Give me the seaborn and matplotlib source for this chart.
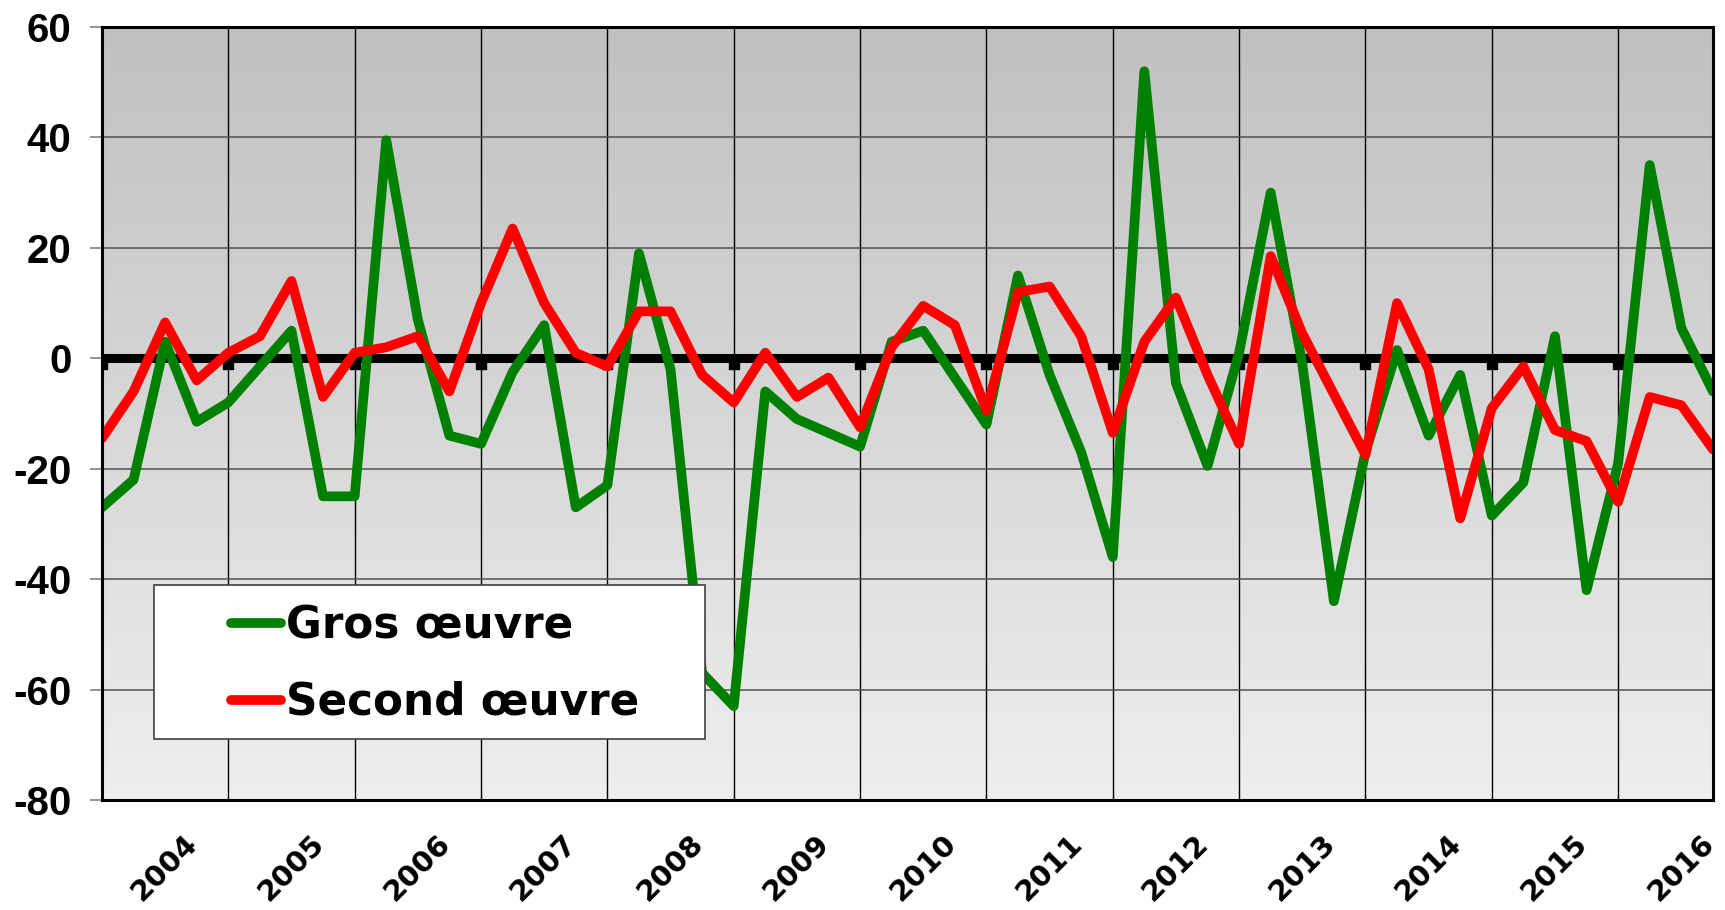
import numpy as np
import pandas as pd
import matplotlib
matplotlib.use('Agg')
import matplotlib.pyplot as plt
import seaborn as sns
from matplotlib.colors import LinearSegmentedColormap
from matplotlib.lines import Line2D
from matplotlib.patches import Rectangle

# Données trimestrielles (solde d'opinion)
years = [str(y) for y in range(2004, 2017)]
gros = [-27, -22, 3, -11.5, -8, -1.5, 5, -25, -25, 39.5, 7, -14, -15.5,
        -2.5, 6, -27, -23, 19, -2, -57, -63, -6, -11, -13.5, -16, 3,
        5, -3.5, -12, 15, -3, -17, -36, 52, -4.5, -19.5, 1, 30, -1,
        -44, -17, 1.5, -14, -3, -28.5, -22.5, 4, -42, -19, 35, 5.5, -6]
second = [-14.5, -6, 6.5, -4, 1, 4, 14, -7, 1, 2, 4, -6, 10,
          23.5, 10, 1, -1.5, 8.5, 8.5, -3, -8, 1, -7, -3.5, -12.5, 2,
          9.5, 6, -9.5, 12, 13, 4, -13.5, 3, 11, -3, -15.5, 18.5, 4.5,
          -6.5, -17.5, 10, -2, -29, -9, -1.5, -13, -15, -26, -7, -8.5, -16.5]
y_ticks = [-80, -60, -40, -20, 0, 20, 40, 60]
labels = ['Gros œuvre', 'Second œuvre']
colors = {'Gros œuvre': '#008000', 'Second œuvre': '#ff0000'}

t = np.arange(len(gros))
df = pd.DataFrame({'t': t, 'Gros œuvre': gros, 'Second œuvre': second})
df = df.melt('t', var_name='serie', value_name='val')

sns.set_theme(style='white')
plt.rcParams['font.family'] = ['DejaVu Sans']
plt.rcParams['text.color'] = 'black'
plt.rcParams['xtick.color'] = 'black'
plt.rcParams['ytick.color'] = 'black'

fig = plt.figure(figsize=(17.25, 9.1), dpi=100)
ax = fig.add_axes([0.0591, 0.1209, 0.9339, 0.8494])

# fond dégradé gris
cmap = LinearSegmentedColormap.from_list('fond', ['#eeeeee', '#c0c0c0'])
grad = np.linspace(0, 1, 256).reshape(-1, 1)
ax.imshow(grad, extent=[0, len(gros) - 1, -80, 60], aspect='auto',
          cmap=cmap, origin='lower', zorder=-1)

ax.axhline(0, color='black', lw=6.5, zorder=3)
grid_x = list(range(0, len(gros), 4))
ax.plot(grid_x, [0] * len(grid_x), ls='none',
        marker=[(-1, 0), (1, 0), (1, -2.2), (-1, -2.2), (-1, 0)],
        ms=16, color='black', zorder=3)

sns.lineplot(data=df, x='t', y='val', hue='serie', palette=colors,
             lw=7, ax=ax, legend=False, sort=False, zorder=4,
             solid_capstyle='round', solid_joinstyle='round')

ax.set_xlim(0, len(gros) - 1)
ax.set_ylim(-80, 60)
ax.set_xlabel('')
ax.set_ylabel('')

ax.set_xticks([4 * i + 2 for i in range(len(years))])
ax.set_xticklabels(years, rotation=45, fontsize=21, fontweight='bold')
ax.set_xticks(grid_x, minor=True)
ax.tick_params(axis='x', which='both', length=0, pad=21, labelcolor='black')

ax.set_yticks(y_ticks)
ax.set_yticklabels([str(v) for v in y_ticks], fontsize=29,
                   fontweight='bold', family='Liberation Sans')
ax.tick_params(axis='y', length=9, width=1.2, color='#808080', pad=13,
               left=True, labelcolor='black')

ax.set_axisbelow(True)
ax.grid(False)
ax.grid(which='minor', axis='x', color='black', lw=1)
ax.grid(which='major', axis='y', color='#505050', lw=1.1)

for s in ax.spines.values():
    s.set_visible(True)
    s.set_color('black')
    s.set_linewidth(2.2)
    s.set_zorder(6)

# cadre de la légende
ax.add_patch(Rectangle((0.0323, 0.0789), 0.342, 0.199, transform=ax.transAxes,
                       facecolor='white', edgecolor='#404040', lw=1.2, zorder=5))
handles = [Line2D([], [], color=colors[l], lw=7, solid_capstyle='round')
           for l in labels]
leg = ax.legend(handles, labels, loc='upper left',
                bbox_to_anchor=(0.0665, 0.281), frameon=False, borderpad=0,
                handlelength=1.15, handletextpad=0.1, labelspacing=0.76,
                prop={'weight': 'bold', 'size': 31.5})
for txt in leg.get_texts():
    txt.set_color('black')
leg.set_zorder(7)

fig.savefig('out.png', dpi=100)
